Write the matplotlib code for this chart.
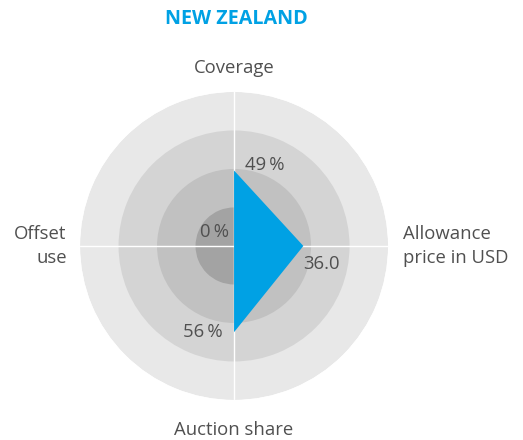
import numpy as np
import matplotlib
matplotlib.use("Agg")
import matplotlib.pyplot as plt

# data
categories = ["Coverage", "Allowance\nprice in USD", "Auction share", "Offset\nuse"]
values = [49, 36.0, 56, 0]
scale_max = [100, 80, 100, 100]
value_labels = ["49\u2009%", "36.0", "56\u2009%", "0\u2009%"]
ring_levels = [1.0, 0.75, 0.5, 0.25]
ring_colors = ["#e8e8e8", "#d4d4d4", "#c1c1c1", "#a3a3a3"]

plt.rcParams['font.family'] = ['Open Sans', 'DejaVu Sans']
text_color = "#505050"
blue = "#00a1e4"
fs = 13.3

fig = plt.figure(figsize=(5.23, 4.40), dpi=100)
ax = fig.add_axes([0.153, 0.091, 0.589, 0.70], projection="polar")
ax.set_theta_zero_location("N")
ax.set_theta_direction(-1)

# background rings
for lvl, col in zip(ring_levels, ring_colors):
  ax.bar(0, lvl, width=2 * np.pi, bottom=0, color=col, edgecolor="none", zorder=1)

# white cross
for t in (0, np.pi / 2, np.pi, 3 * np.pi / 2):
  ax.plot([t, t], [0, 1.0], color="white", lw=1.0, zorder=2)

# polygon
theta = np.array([0, np.pi / 2, np.pi, 3 * np.pi / 2])
norm = np.array(values) / np.array(scale_max)
ax.fill(np.append(theta, theta[0]), np.append(norm, norm[0]), color=blue, lw=0, zorder=3)

ax.set_ylim(0, 1.0)
ax.set_xticks([])
ax.set_yticks([])
ax.spines["polar"].set_visible(False)
ax.grid(False)
ax.set_facecolor("none")

# category labels
ax.text(0, 1.156, categories[0], ha="center", va="center", fontsize=fs, color=text_color, clip_on=False)
ax.text(np.pi / 2, 1.097, categories[1], ha="left", va="center", fontsize=fs, color=text_color,
        clip_on=False, linespacing=1.4)
ax.text(np.pi, 1.195, categories[2], ha="center", va="center", fontsize=fs, color=text_color, clip_on=False)
ax.text(3 * np.pi / 2, 1.087, categories[3], ha="right", va="center", fontsize=fs, color=text_color,
        clip_on=False, multialignment="right", linespacing=1.4)

# value labels
for txt, (px, py) in zip(value_labels, [(265, 165), (322, 264), (203, 332), (214, 232)]):
  fig.text(px / 523, 1 - py / 440, txt, ha="center", va="center", fontsize=fs, color=text_color,
           family=['Open Sans', 'DejaVu Sans'])

fig.text(236 / 523, 1 - 19 / 440, "NEW ZEALAND", ha="center", va="center", fontsize=14.2,
         fontweight="bold", color=blue)

plt.savefig("out.png", dpi=100)
